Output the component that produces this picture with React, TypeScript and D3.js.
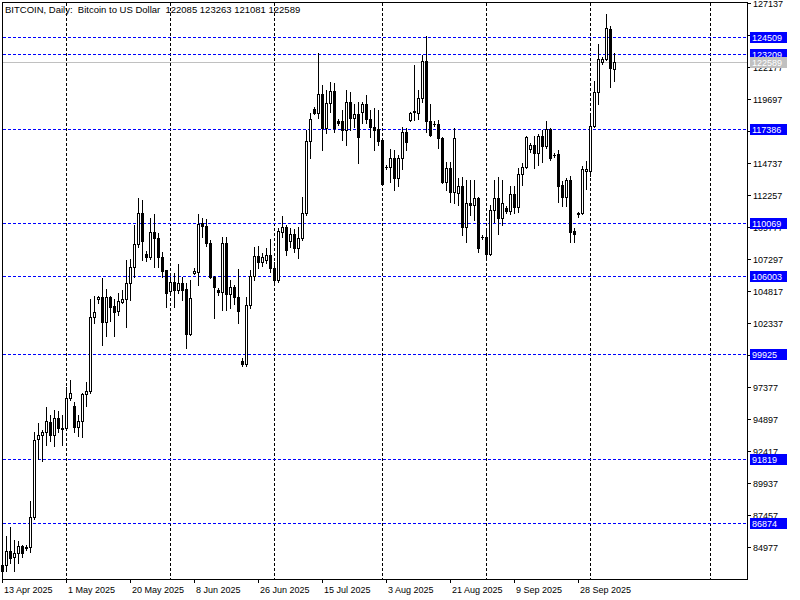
import { useEffect, useRef } from 'react';
import * as d3 from 'd3';

const title = 'BITCOIN, Daily:  Bitcoin to US Dollar  122085 123263 121081 122589';

// daily bars, the feed has no Saturday bars
const firstDay = '2025-04-13';
const lastDay = '2025-10-08';

const opens = [
  83582, 83582, 84670, 84205, 84515, 85057, 84903, 84980, 87305, 93353,
  93664, 93897, 94672, 93664, 94983, 94207, 94207, 96534, 95913, 94280,
  94750, 96844, 97076, 102815, 104211, 104366, 102427, 104366, 103668, 103280,
  103978, 104211, 105452, 106692, 108476, 110880, 107701, 107468, 109406, 108941,
  107468, 106460, 104831, 105529, 104909, 105452, 104986, 101496, 106227, 106304,
  110104, 109872, 108553, 105917, 104909, 104753, 108553, 104598, 105141, 104366,
  99402, 99169, 103745, 105995, 107545, 107080, 107235, 107623, 106615, 105684,
  109406, 109794, 108709, 109251, 108166, 108941, 110880, 116464, 118945, 118635,
  120109, 117472, 119411, 120341, 118014, 118014, 117317, 119488, 118247, 118557,
  118712, 119333, 118170, 117549, 117394, 116541, 114447, 114447, 115145, 113595,
  115145, 117162, 118092, 118712, 118635, 119798, 122668, 118014, 117782, 117782,
  116696, 113284, 114370, 112508, 112431, 112974, 109794, 111656, 111500, 112043,
  109019, 109019, 107701, 111113, 112043, 110492, 111268, 111035, 112353, 111345,
  113905, 114447, 115843, 116153, 115533, 116851, 116076, 117394, 115378, 115455,
  113051, 112121, 113439, 109484, 110802, 110880, 114137, 114137, 117627, 120264,
  122590, 122823, 125149, 122085,
];
const highs = [
  84282, 85832, 86530, 85522, 85445, 85135, 85135, 88546, 93897, 94595,
  94053, 95835, 95216, 95603, 95526, 95216, 97386, 97929, 96223, 95216,
  96921, 97774, 104211, 104443, 104443, 105839, 104986, 104443, 104211, 104676,
  104909, 107235, 107313, 109949, 112043, 111888, 107933, 110492, 110802, 109329,
  107856, 106460, 105917, 106227, 106925, 105917, 105452, 105684, 106615, 110802,
  110492, 110414, 108786, 105995, 105064, 109019, 109019, 105684, 105296, 106537,
  99635, 104366, 106460, 108243, 108321, 107778, 108166, 108864, 107080, 109717,
  110647, 109949, 109717, 109639, 109794, 112121, 117317, 118635, 119100, 123288,
  120806, 120419, 121039, 120961, 118170, 118868, 120419, 120264, 119333, 119488,
  119488, 120031, 118868, 119023, 118868, 116619, 114602, 115843, 115766, 115378,
  117549, 117472, 118712, 122357, 120419, 123133, 124606, 119333, 118014, 118092,
  116774, 114835, 114835, 117472, 113595, 113672, 113439, 113439, 113439, 112121,
  109174, 109717, 111500, 113439, 113672, 113439, 111423, 112974, 112974, 114370,
  114757, 116851, 116308, 116851, 117006, 117317, 118014, 117472, 115533, 115766,
  113362, 113595, 113750, 109717, 110957, 114525, 114913, 118402, 121117, 123986,
  122978, 126312, 125382, 123263,
];
const lows = [
  82807, 83117, 83739, 83117, 83739, 84205, 84748, 84592, 87150, 91803,
  91647, 92888, 93198, 92811, 93897, 92888, 94053, 96378, 93897, 93590,
  93510, 95913, 96921, 102350, 103900, 100643, 101341, 102505, 101341, 102970,
  103900, 102040, 104133, 105917, 108243, 107235, 107158, 107313, 106692, 106692,
  105917, 103590, 104753, 103590, 104676, 104133, 100411, 101419, 106149, 105296,
  109019, 108321, 105839, 102737, 104521, 103358, 103358, 103513, 103823, 102350,
  99015, 99015, 103513, 105684, 106615, 106770, 107003, 106304, 105296, 105529,
  109019, 107623, 108243, 107856, 107390, 108786, 110725, 115145, 118557, 118247,
  115766, 117084, 118712, 117162, 117704, 116541, 116153, 117317, 117549, 114757,
  117859, 117859, 116774, 115766, 116153, 113051, 114292, 113284, 112664, 112974,
  114292, 115766, 118014, 118092, 118170, 119488, 117162, 116851, 117627, 115921,
  113207, 112664, 111733, 111656, 111500, 109174, 108631, 110725, 110337, 107856,
  108864, 107313, 107623, 110182, 109251, 109949, 110880, 110802, 110880, 110957,
  113051, 114370, 115610, 114370, 114602, 114835, 115921, 114990, 115223, 111733,
  111423, 111423, 108631, 108631, 110570, 110802, 112741, 113750, 117549, 119333,
  122435, 122745, 120651, 121081,
];
const closes = [
  83117, 84670, 84127, 84515, 85057, 84515, 84980, 87305, 93276, 93664,
  93897, 94750, 93664, 94983, 94207, 94150, 96534, 96921, 94280, 94750,
  96844, 97076, 102815, 103202, 104366, 102427, 104366, 103590, 103202, 104056,
  104211, 105452, 106692, 108476, 110880, 108709, 107468, 109406, 108941, 107468,
  106382, 104676, 105529, 104909, 105452, 104909, 101496, 104288, 106382, 110027,
  109872, 108553, 105917, 105141, 104753, 108553, 104598, 105141, 104366, 103280,
  99169, 103745, 105995, 107545, 107080, 107468, 107623, 106615, 105684, 109484,
  109794, 108011, 109251, 108166, 108941, 110880, 116464, 118170, 118635, 120109,
  117472, 119411, 120341, 117472, 117859, 117317, 119488, 118247, 118557, 116774,
  119333, 118170, 117549, 117317, 116464, 113129, 114420, 115145, 113595, 115145,
  117162, 116386, 118635, 118790, 119798, 122668, 118014, 116929, 117750, 116696,
  113284, 114370, 112508, 116696, 112974, 109794, 111656, 111500, 112043, 108166,
  108990, 107701, 111113, 112043, 110492, 111656, 111035, 112353, 111345, 113905,
  114447, 116774, 116153, 115533, 116851, 116076, 117394, 115145, 115350, 112974,
  112121, 113439, 109406, 109251, 110850, 114292, 114292, 117627, 120264, 122823,
  122823, 125227, 122125, 122589,
];

const priceTicks = [
  84977, 87457, 89937, 92417, 94897, 97377, 99857, 102337, 104817,
  107297, 109777, 112257, 114737, 117217, 119697, 122177, 124657, 127137,
];
const dateTicks = [
  '2025-04-13', '2025-05-01', '2025-05-20', '2025-06-08', '2025-06-26',
  '2025-07-15', '2025-08-03', '2025-08-21', '2025-09-09', '2025-09-28',
];
const levels = [124509, 123209, 117386, 110069, 106003, 99925, 91819, 86874];
const bid = 122589;

const FONT = '"Liberation Sans", Arial, sans-serif';

export default function App() {
  const svgRef = useRef<SVGSVGElement>(null);

  useEffect(() => {
    if (!svgRef.current) return;
    const svg = d3.select(svgRef.current);
    svg.selectAll('*').remove();

    const left = 2, right = 747, top = 2, bottom = 579;

    const parse = d3.timeParse('%Y-%m-%d');
    const d0 = parse(firstDay)!, d1 = parse(lastDay)!;
    const days = d3.timeDay.range(d0, d3.timeDay.offset(d1, 1)).filter((d) => d.getDay() !== 6);
    const n = days.length;
    // after the last bar the terminal counts every calendar day
    const indexOf = (d: Date) =>
      d > days[n - 1] ? n - 1 + d3.timeDay.count(days[n - 1], d) : d3.bisectLeft(days, d);

    const x = d3.scaleLinear().domain([0, 186]).range([2, 746]);
    const y = d3.scaleLinear().domain([82496, 127165]).range([579, 3]);
    const px = (i: number) => Math.round(x(i));
    const py = (p: number) => Math.round(y(p));

    svg.append('rect').attr('width', 800).attr('height', 600).attr('fill', '#fff');

    const g = svg.append('g').attr('shape-rendering', 'crispEdges');

    // month grid
    const months = d3.timeMonth
      .range(d3.timeMonth.ceil(d0), new Date(2026, 0, 1))
      .filter((m) => px(indexOf(m)) < right);
    g.selectAll('.vgrid')
      .data(months)
      .join('line')
      .attr('x1', (m) => px(indexOf(m)) + 0.5)
      .attr('x2', (m) => px(indexOf(m)) + 0.5)
      .attr('y1', top + 1)
      .attr('y2', bottom)
      .attr('stroke', '#000')
      .attr('stroke-dasharray', '3,2');

    g.selectAll('.level')
      .data(levels)
      .join('line')
      .attr('x1', left + 1)
      .attr('x2', right)
      .attr('y1', (v) => py(v) + 0.5)
      .attr('y2', (v) => py(v) + 0.5)
      .attr('stroke', '#0000ff')
      .attr('stroke-dasharray', '3,2');

    g.append('line')
      .attr('x1', left + 1).attr('x2', right)
      .attr('y1', py(bid) + 0.5).attr('y2', py(bid) + 0.5)
      .attr('stroke', '#c0c0c0');

    // candles
    const bars = d3.range(n);
    g.selectAll('.wick')
      .data(bars)
      .join('line')
      .attr('x1', (i) => px(i) + 0.5)
      .attr('x2', (i) => px(i) + 0.5)
      .attr('y1', (i) => py(highs[i]))
      .attr('y2', (i) => py(lows[i]) + 1)
      .attr('stroke', '#000');

    g.selectAll('.body')
      .data(bars)
      .join('rect')
      .each(function (i) {
        const yo = py(opens[i]), yc = py(closes[i]);
        const t = Math.min(yo, yc), b = Math.max(yo, yc);
        const r = d3.select(this);
        if (closes[i] < opens[i]) {
          r.attr('x', px(i) - 1).attr('y', t).attr('width', 3).attr('height', b - t + 1)
            .attr('fill', '#000');
        } else {
          r.attr('x', px(i) - 0.5).attr('y', t + 0.5).attr('width', 2).attr('height', b - t)
            .attr('fill', '#fff').attr('stroke', '#000');
        }
      });

    // frame
    g.append('rect')
      .attr('x', left + 0.5).attr('y', top + 0.5)
      .attr('width', right - left).attr('height', bottom - top)
      .attr('fill', 'none').attr('stroke', '#000');

    // price scale; labels sitting right under a level box are not drawn
    g.selectAll('.ptick')
      .data(priceTicks)
      .join('line')
      .attr('x1', right).attr('x2', right + 4)
      .attr('y1', (v) => py(v) + 0.5).attr('y2', (v) => py(v) + 0.5)
      .attr('stroke', '#000');
    const covered = (v: number) => [...levels, bid].some((l) => Math.abs(py(l) - py(v)) < 4);
    svg.selectAll('.plabel')
      .data(priceTicks.filter((v) => !covered(v)))
      .join('text')
      .attr('x', right + 6)
      .attr('y', (v) => py(v) + 4)
      .attr('font-family', FONT).attr('font-size', 9).attr('fill', '#000')
      .text((v) => String(v));

    const boxes = [...levels.map((v) => ({ v, c: '#0000ff' })), { v: bid, c: '#c0c0c0' }];
    const bg = svg.selectAll('.box').data(boxes).join('g');
    bg.append('rect')
      .attr('x', right + 3).attr('y', (d) => py(d.v) - 5)
      .attr('width', 37).attr('height', 11)
      .attr('fill', (d) => d.c).attr('shape-rendering', 'crispEdges');
    bg.append('text')
      .attr('x', right + 5).attr('y', (d) => py(d.v) + 4)
      .attr('font-family', FONT).attr('font-size', 9).attr('fill', '#fff')
      .text((d) => String(d.v));

    // time scale
    const fmt = d3.timeFormat('%-d %b %Y');
    const tickDates = dateTicks.map((s) => parse(s)!);
    g.selectAll('.ttick')
      .data(tickDates)
      .join('line')
      .attr('x1', (d) => px(indexOf(d)) + 0.5).attr('x2', (d) => px(indexOf(d)) + 0.5)
      .attr('y1', bottom).attr('y2', bottom + 4)
      .attr('stroke', '#000');
    svg.selectAll('.tlabel')
      .data(tickDates)
      .join('text')
      .attr('x', (d) => px(indexOf(d)) + 2)
      .attr('y', bottom + 14)
      .attr('font-family', FONT).attr('font-size', 9).attr('fill', '#000')
      .text((d) => fmt(d));

    svg.append('text')
      .attr('x', 5).attr('y', 13)
      .attr('font-family', FONT).attr('font-size', 9.5).attr('fill', '#000')
      .style('white-space', 'pre')
      .text(title);
  }, []);

  return (
    <svg
      ref={svgRef}
      width={800}
      height={600}
      style={{ position: 'absolute', left: 0, top: 0, display: 'block' }}
    />
  );
}
